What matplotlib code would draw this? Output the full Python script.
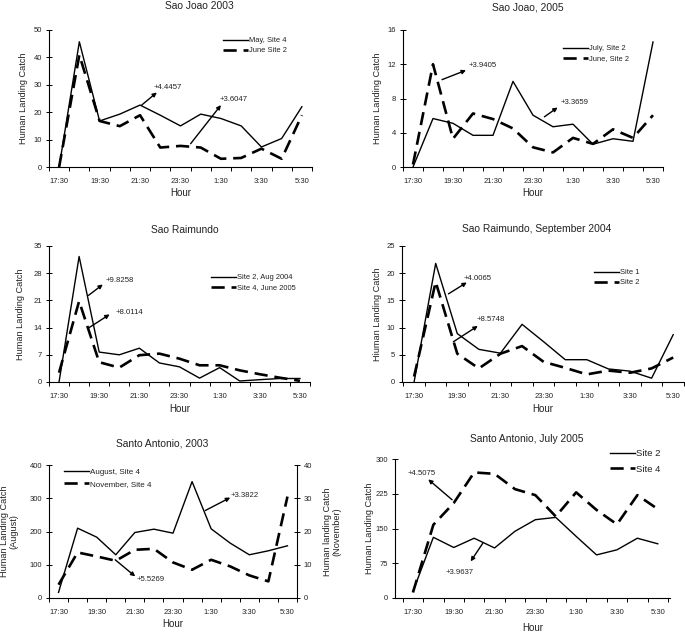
import matplotlib
matplotlib.use('Agg')
import matplotlib.pyplot as plt
import numpy as np

plt.rcParams['font.family'] = ['Liberation Sans', 'DejaVu Sans']

W, H = 685, 634

##### data #####
hours = ['17:30', '18:30', '19:30', '20:30', '21:30', '22:30', '23:30',
         '0:30', '1:30', '2:30', '3:30', '4:30', '5:30']
tick_labels = hours[::2]

sj03_may = [0, 45.7, 16.8, 19.3, 22.6, 18.9, 15.0, 19.3, 17.7, 15.0, 7.3, 10.4, 22.0]
sj03_june = [0, 40.9, 16.8, 14.9, 18.9, 7.1, 7.7, 7.1, 3.0, 3.3, 6.7, 3.0, 18.9]

sj05_july = [0, 5.66, 5.1, 3.7, 3.7, 10.0, 6.05, 4.7, 5.0, 2.66, 3.3, 3.0, 14.6]
sj05_june = [0.3, 12.0, 3.3, 6.25, 5.6, 4.5, 2.3, 1.7, 3.4, 2.7, 4.4, 3.4, 6.05]

sr_aug04 = [0, 32.3, 7.7, 7.0, 8.7, 4.9, 3.9, 1.0, 3.7, 0.26, 0.6, 0.9, 0.9]
sr_jun05 = [2.4, 20.8, 5.1, 3.7, 6.9, 7.3, 6.0, 4.3, 4.3, 3.0, 2.0, 1.1, 0.3]

srs_site1 = [0, 21.8, 8.9, 6.0, 5.3, 10.6, 7.4, 4.1, 4.1, 2.4, 2.0, 0.7, 8.7]
srs_site2 = [1.0, 18.4, 5.2, 2.5, 5.2, 6.6, 3.7, 2.6, 1.4, 2.1, 1.7, 2.5, 4.5]

sa03_aug = [17, 210, 183, 130, 197, 207, 195, 350, 208, 165, 130, 142, 157]
sa03_nov = [4, 13.7, 12.5, 11.2, 14.5, 14.8, 10.7, 8.5, 11.5, 9.5, 6.8, 5.0, 30.5]

sa05_site2 = [14, 131, 109, 129, 108, 144, 169, 174, 133, 93, 104, 129, 117]
sa05_site4 = [12, 158, 205, 271, 268, 235, 222, 176, 228, 190, 159, 222, 192]

TXT = '#222222'
TICK_FS = 5.5
SOLID = dict(color='black', lw=1.0)
DASH = dict(color='black', lw=1.9, dashes=(5, 2.6))

fig = plt.figure(figsize=(W / 100, H / 100), dpi=100)
fig.patch.set_facecolor('white')


##### helpers #####
def px_axes(l, t, r, b):
    return fig.add_axes([l / W, 1 - b / H, (r - l) / W, (b - t) / H])


def style_axes(ax, xlim, yticks, ylabel, ylab_dx, hour_dy):
    n = len(hours)
    x = np.arange(n)
    ax.set_xlim(*xlim)
    ax.set_ylim(yticks[0], yticks[-1])
    ax.set_xticks(x[::2])
    ax.set_xticklabels(tick_labels)
    ax.set_xticks(np.arange(-0.5, n, 1), minor=True)
    ax.tick_params(axis='x', which='major', length=0, pad=8, labelsize=TICK_FS, labelcolor=TXT)
    ax.tick_params(axis='x', which='minor', length=3, direction='out', width=0.7)
    ax.set_yticks(yticks)
    ax.tick_params(axis='y', length=4, direction='inout', width=0.7, labelsize=TICK_FS,
                   labelcolor=TXT, pad=3)
    ax.spines['top'].set_visible(False)
    ax.spines['right'].set_visible(False)
    for s in ['left', 'bottom']:
        ax.spines[s].set_linewidth(0.8)
    bb = ax.get_position()
    wpx = bb.width * W
    hpx = bb.height * H
    ax.set_xlabel('Hour', fontsize=7, color=TXT, va='center')
    ax.xaxis.set_label_coords(0.5, -hour_dy / hpx)
    ax.set_ylabel(ylabel, fontsize=6.6, color=TXT, linespacing=1.1, va='center')
    ax.yaxis.set_label_coords(ylab_dx / wpx, 0.5)
    return x


def arrow(ax, tail, head, text, tx, ty):
    ax.annotate('', xy=head, xytext=tail,
                arrowprops=dict(arrowstyle='-|>', color='black', lw=1.0,
                                mutation_scale=6, shrinkA=0, shrinkB=0))
    ax.text(tx, ty, text, fontsize=5.6, color=TXT, ha='left', va='center')


def legend(ax, lx, ty, fs=5.4, spacing=0.4, handles=None, labels=None):
    kw = dict(frameon=False, loc='upper left',
              bbox_to_anchor=(lx / W, 1 - ty / H), bbox_transform=fig.transFigure,
              fontsize=fs, handlelength=25 / (fs * 100 / 72), handletextpad=0.15,
              borderpad=0, borderaxespad=0, labelspacing=spacing, labelcolor=TXT)
    if handles is None:
        ax.legend(**kw)
    else:
        ax.legend(handles, labels, **kw)


def title(text, cx, cy):
    fig.text(cx / W, 1 - cy / H, text, fontsize=7.4, color=TXT, ha='center', va='center')


##### Sao Joao 2003 #####
ax = px_axes(49, 30, 312, 167)
x = style_axes(ax, (-0.46, 12.5), [0, 10, 20, 30, 40, 50], 'Human Landing Catch', -25, 26)
ax.plot(x, sj03_may, label='May, Site 4', **SOLID)
ax.plot(x, sj03_june, label='June Site 2', **DASH)
arrow(ax, (4.08, 22.6), (4.83, 27.2), '+4.4457', 4.67, 29.0)
arrow(ax, (6.5, 8.5), (8.0, 22.6), '+3.6047', 7.92, 24.8)
legend(ax, 223, 37)
title('Sao Joao 2003', 199, 6)

##### Sao Joao, 2005 #####
ax = px_axes(403, 30, 663, 167)
x = style_axes(ax, (-0.5, 12.5), [0, 4, 8, 12, 16], 'Human Landing Catch', -26, 26)
ax.plot(x, sj05_july, label='July, Site 2', **SOLID)
ax.plot(x, sj05_june, label='June, Site 2', **DASH)
arrow(ax, (1.45, 10.2), (2.65, 11.3), '+3.9405', 2.78, 11.9)
arrow(ax, (6.57, 5.86), (7.23, 6.95), '+3.3659', 7.37, 7.54)
legend(ax, 563, 45)
title('Sao Joao, 2005', 528, 8)

##### Sao Raimundo #####
ax = px_axes(49, 246, 310, 382)
x = style_axes(ax, (-0.5, 12.5), [0, 7, 14, 21, 28, 35], 'Human Landing Catch', -28, 27)
ax.plot(x, sr_aug04, label='Site 2, Aug 2004', **SOLID)
ax.plot(x, sr_jun05, label='Site 4, June 2005', **DASH)
arrow(ax, (1.47, 22.3), (2.18, 25.1), '+9.8258', 2.3, 26.0)
arrow(ax, (1.47, 13.9), (2.52, 17.4), '+8.0114', 2.8, 17.8)
legend(ax, 211, 274)
title('Sao Raimundo', 185, 230)

##### Sao Raimundo, September 2004 #####
ax = px_axes(402, 246, 684, 382)
x = style_axes(ax, (-0.56, 12.5), [0, 5, 10, 15, 20, 25], 'Hiuman Landing Catch', -25, 27)
ax.plot(x, srs_site1, label='Site 1', **SOLID)
ax.plot(x, srs_site2, label='Site 2', **DASH)
arrow(ax, (1.59, 16.2), (2.44, 18.3), '+4.0065', 2.28, 19.0)
arrow(ax, (1.82, 7.4), (2.95, 10.3), '+8.5748', 2.9, 11.4)
legend(ax, 594, 269)
title('Sao Raimundo, September 2004', 537, 229)

##### Santo Antonio, 2003 (two y axes) #####
ax = px_axes(49, 465, 297, 598)
x = style_axes(ax, (-0.47, 12.5), [0, 100, 200, 300, 400],
               'Human Landing Catch\n(August)', -40, 26)
ax2 = ax.twinx()
ax2.set_ylim(0, 40)
ax2.set_yticks([0, 10, 20, 30, 40])
ax2.tick_params(axis='y', length=4, direction='inout', width=0.7, labelsize=TICK_FS,
                labelcolor=TXT, pad=3)
for s in ['top', 'left', 'bottom']:
    ax2.spines[s].set_visible(False)
ax2.spines['right'].set_linewidth(0.8)
ax2.set_ylabel('Human landing Catch\n(November)', fontsize=6.6, color=TXT,
               rotation=90, linespacing=1.1, va='center')
ax2.yaxis.set_label_coords(1 + 35 / 248, 0.5)
l1, = ax.plot(x, sa03_aug, **SOLID)
l2, = ax2.plot(x, sa03_nov, **DASH)
arrow(ax, (7.69, 263), (9.0, 302), '+3.3822', 9.0, 307)
arrow(ax, (2.97, 115), (4.02, 65), '+5.5269', 4.1, 55)
legend(ax2, 64, 468, fs=5.8, spacing=0.55, handles=[l1, l2],
       labels=['August, Site 4', 'November, Site 4'])
title('Santo Antonio, 2003', 162, 444)

##### Santo Antonio, July 2005 #####
ax = px_axes(395, 459, 670, 598)
x = style_axes(ax, (-0.88, 12.6), [0, 75, 150, 225, 300], 'Human Landing Catch', -25, 30)
ax.plot(x, sa05_site2, label='Site 2', **SOLID)
ax.plot(x, sa05_site4, label='Site 4', **DASH)
arrow(ax, (1.92, 212), (0.75, 256), '+4.5075', -0.25, 268)
arrow(ax, (3.42, 118), (2.83, 79), '+3.9637', 1.58, 54)
legend(ax, 610, 449, fs=6.8, spacing=0.7)
title('Santo Antonio, July 2005', 527, 439)

fig.savefig('out.png', dpi=100, facecolor='white')
